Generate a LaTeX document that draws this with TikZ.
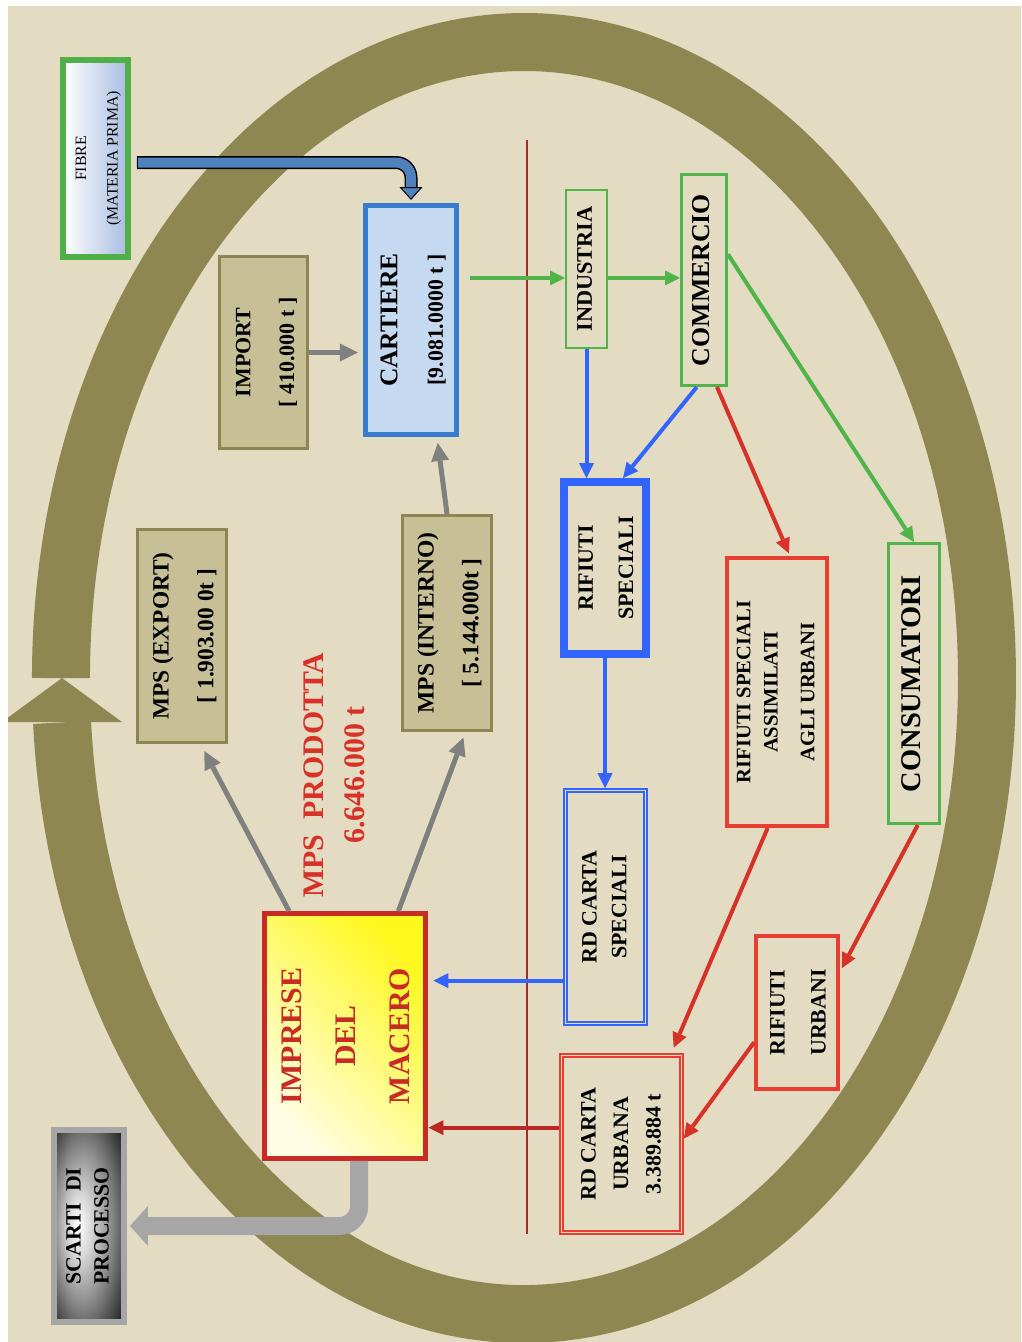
\documentclass[tikz,border=0pt]{standalone}
\usepackage{fontspec}
\setmainfont{Liberation Serif}
\usepackage{graphicx}
\usetikzlibrary{arrows.meta, calc}

\definecolor{bgbeige}{RGB}{227,219,194}
\definecolor{ringolive}{RGB}{142,135,82}
\definecolor{khaki}{RGB}{199,192,150}
\definecolor{khakiedge}{RGB}{140,134,84}
\definecolor{cartfill}{RGB}{197,217,241}
\definecolor{cartedge}{RGB}{55,125,205}
\definecolor{fibgreen}{RGB}{80,176,72}
\definecolor{fibblue}{RGB}{79,129,189}
\definecolor{fibshade}{RGB}{168,188,224}
\definecolor{flowgreen}{RGB}{80,180,75}
\definecolor{flowblue}{RGB}{50,100,255}
\definecolor{flowred}{RGB}{215,50,40}
\definecolor{boxred}{RGB}{232,62,50}
\definecolor{macred}{RGB}{200,42,36}
\definecolor{deepred}{RGB}{185,40,35}
\definecolor{sepred}{RGB}{160,45,40}
\definecolor{flowgray}{RGB}{128,128,128}
\definecolor{scartigray}{RGB}{166,166,166}
\definecolor{macyellow}{RGB}{255,248,30}
\definecolor{macpale}{RGB}{255,253,228}

\pgfdeclareradialshading{scartishade}{\pgfpoint{-8bp}{0bp}}{%
  color(0bp)=(white); color(8bp)=(white!85!black); color(22bp)=(black!50);
  color(36bp)=(black!88); color(50bp)=(black)}

\newcommand{\fsz}[2]{\fontsize{#1}{#2}\selectfont}
\newcommand{\vlines}[1]{\rotatebox{90}{\begin{tabular}{@{}c@{}}#1\end{tabular}}}

\tikzset{
    box/.style={
        rectangle, inner sep=0pt, font=\bfseries\fsz{12.5}{25}
    },
    fibrebox/.style={
        box, draw=fibgreen, line width=0.12cm,
        left color=white, right color=fibshade, font=\fsz{9}{18}
    },
    khakibox/.style={
        box, draw=khakiedge, line width=0.06cm, fill=khaki
    },
    cartbox/.style={
        box, draw=cartedge, line width=0.1cm, fill=cartfill
    },
    greenbox/.style={box, draw=flowgreen, line width=0.06cm},
    redbox/.style={box, draw=boxred, line width=0.08cm},
    framebox/.style={box, line width=0.9pt},
    innerframe/.style={line width=0.9pt},
    fibreline/.style={
        draw=black, line width=0.26cm, rounded corners=0.3cm,
        shorten <=0.12cm, shorten >=0.32cm
    },
    fibrearr/.style={
        draw=fibblue, line width=0.2cm, rounded corners=0.3cm,
        shorten <=0.14cm, shorten >=0.06cm,
        -{Triangle[length=0.26cm 0 0, width=0.46cm 0 0, fill=fibblue, color=black, line width=0.6pt 0 0]}
    },
    grayarr/.style={
        draw=flowgray, line width=0.1cm,
        -{Triangle[length=0.36cm 0 0, width=0.36cm 0 0, line width=0pt 0 0]}
    },
    greenarr/.style={
        draw=flowgreen, line width=0.08cm,
        -{Triangle[length=0.3cm 0 0, width=0.3cm 0 0, line width=0pt 0 0]}
    },
    bluearr/.style={
        draw=flowblue, line width=0.08cm,
        -{Triangle[length=0.3cm 0 0, width=0.3cm 0 0, line width=0pt 0 0]}
    },
    redarr/.style={
        draw=flowred, line width=0.08cm,
        -{Triangle[length=0.3cm 0 0, width=0.3cm 0 0, line width=0pt 0 0]}
    },
    scartiarr/.style={
        draw=scartigray, line width=0.36cm, rounded corners=0.4cm, shorten >=0.06cm,
        -{Triangle[length=0.36cm 0 0, width=0.8cm 0 0, line width=0pt 0 0]}
    },
    ring/.style={draw=ringolive, line width=1.16cm},
    sepline/.style={draw=sepred, line width=0.04cm}
}

\begin{document}
\begin{tikzpicture}[x=0.02cm, y=-0.02cm]

\useasboundingbox (0,0) rectangle (1021,1342);
\fill[white] (0,0) rectangle (1021,1342);
\fill[bgbeige] (8,6) rectangle (1021,1342);

% Recycling loop
\begin{scope}
\clip (8,6) rectangle (1021,1342);
\draw[ring] (62.1,722.4) arc[start angle=176, end angle=-180, x radius=463, y radius=636];
\fill[ringolive] (2,722) -- (62,678) -- (122,722) -- cycle;
\end{scope}

\draw[sepline] (527,140) -- (527,1234);

% Paper mills side
\node[fibrebox, minimum width=1.3cm, minimum height=3.94cm] (fibre) at (95.5,158.5) {\vlines{FIBRE\\(MATERIA PRIMA)}};
\node[khakibox, minimum width=1.6cm, minimum height=3.84cm] (import) at (263.5,352.5) {\vlines{IMPORT\\{[} 410.000 t ]}};
\node[cartbox, minimum width=1.74cm, minimum height=4.58cm, font=\bfseries\fsz{12.4}{26}] (cartiere) at (411,320) {\vlines{{\fsz{14.5}{26}CARTIERE}\\{[}9.081.0000 t ]}};
\node[khakibox, minimum width=1.74cm, minimum height=4.26cm, font=\bfseries\fsz{13.3}{25.5}] (mpsexp) at (182,636) {\vlines{MPS (EXPORT)\\{[} 1.903.00 0t ]}};
\node[khakibox, minimum width=1.74cm, minimum height=4.3cm, font=\bfseries\fsz{13.4}{25.5}] (mpsint) at (447,623) {\vlines{MPS (INTERNO)\\{[} 5.144.000t ]}};
\node[box, text=flowred, font=\bfseries\fsz{17}{23.3}] (prod) at (336,775) {\vlines{MPS\ \ PRODOTTA\\6.646.000 t}};

% Recovery companies
\node[box, draw=macred, line width=0.1cm, top color=macyellow, bottom color=macpale, shading angle=-45,
      text=macred, font=\bfseries\fsz{17}{30.7}, minimum width=3.18cm, minimum height=4.9cm] (macero) at (345,1036) {\vlines{IMPRESE\\DEL\\MACERO}};
\node[box, draw=scartigray, line width=0.12cm, shading=scartishade,
      font=\bfseries\fsz{12.4}{16}, minimum width=1.4cm, minimum height=3.84cm] (scarti) at (89,1226) {\vlines{SCARTI\ \ DI\\PROCESSO}};

% Users and waste
\node[greenbox, line width=0.04cm, font=\bfseries\fsz{12.7}{15}, minimum width=0.82cm, minimum height=3.16cm] (industria) at (586.5,269) {\vlines{INDUSTRIA}};
\node[greenbox, font=\bfseries\fsz{14.7}{17}, minimum width=0.9cm, minimum height=4.22cm] (commercio) at (704,280) {\vlines{COMMERCIO}};
\node[box, draw=flowblue, line width=0.16cm, font=\bfseries\fsz{12.5}{22.8}, minimum width=1.64cm, minimum height=3.44cm] (rspec) at (605,568) {\vlines{RIFIUTI\\SPECIALI}};
\node[redbox, font=\bfseries\fsz{11.7}{15.4}, minimum width=2cm, minimum height=5.36cm] (assim) at (777,692) {\vlines{RIFIUTI SPECIALI\\ASSIMILATI\\[5.6pt]AGLI URBANI}};
\node[greenbox, font=\bfseries\fsz{16.2}{19}, minimum width=1.02cm, minimum height=5.6cm] (consumatori) at (914,683.5) {\vlines{CONSUMATORI}};
\node[redbox, font=\bfseries\fsz{12.5}{23.3}, minimum width=1.6cm, minimum height=3.06cm] (rurb) at (797,1012.5) {\vlines{RIFIUTI\\URBANI}};
\node[framebox, draw=boxred, font=\bfseries\fsz{12.5}{18.5}, minimum width=2.46cm, minimum height=3.6cm] (rdurb) at (621.5,1144) {\vlines{RD CARTA\\URBANA\\3.389.884 t}};
\draw[innerframe, draw=boxred] ($(rdurb.north west)+(4,4)$) rectangle ($(rdurb.south east)+(-4,-4)$);
\node[framebox, draw=flowblue, font=\bfseries\fsz{12.5}{17}, minimum width=1.66cm, minimum height=4.72cm] (rdspec) at (605.5,907) {\vlines{RD CARTA\\SPECIALI}};
\draw[innerframe, draw=flowblue] ($(rdspec.north west)+(4,4)$) rectangle ($(rdspec.south east)+(-4,-4)$);

% Fibre supply
\coordinate (fibout) at ($(fibre.north east)!0.52!(fibre.south east)$);
\draw[fibreline] (fibout) -| (cartiere.north);
\draw[fibrearr] (fibout) -| (cartiere.north);

% Secondary raw material
\draw[grayarr, shorten >=0.1cm] (import.east) -- (import.east -| cartiere.west);
\draw[grayarr, shorten >=0.12cm] (mpsint.north) -- ($(cartiere.south west)!0.77!(cartiere.south east)$);
\draw[grayarr, shorten >=0.16cm] ($(macero.north west)!0.165!(macero.north east)$) -- ($(mpsexp.south west)!0.7!(mpsexp.south east)$);
\draw[grayarr, shorten >=0.12cm] ($(macero.north west)!0.82!(macero.north east)$) -- ($(mpsint.south west)!0.7!(mpsint.south east)$);
\draw[scartiarr] ($(macero.south west)!0.585!(macero.south east)$) |- (scarti.east);

% Product flow
\coordinate (cartout) at ($(cartiere.north east)!0.32!(cartiere.south east)$);
\draw[greenarr, shorten <=0.22cm] (cartout) -- (cartout -| industria.west);
\draw[greenarr] (cartout -| industria.east) -- (cartout -| commercio.west);
\draw[greenarr] ($(commercio.north east)!0.38!(commercio.south east)$) -- (consumatori.north);

% Special waste
\draw[bluearr] (industria.south) -- (industria.south |- rspec.north);
\draw[bluearr] ($(commercio.south west)!0.35!(commercio.south east)$) -- ($(rspec.north west)!0.7!(rspec.north east)$);
\draw[bluearr] (rspec.south) -- (rspec.south |- rdspec.north);
\coordinate (rdsout) at ($(rdspec.south west)!0.19!(rdspec.north west)$);
\draw[bluearr, shorten >=0.1cm] (rdsout) -- (rdsout -| macero.east);

% Urban waste
\draw[redarr, shorten >=0.06cm] ($(commercio.south west)!0.77!(commercio.south east)$) -- ($(assim.north west)!0.625!(assim.north east)$);
\draw[redarr, shorten >=0.12cm] ($(assim.south west)!0.41!(assim.south east)$) -- ($(rdurb.north west)!0.9!(rdurb.north east)$);
\draw[redarr, shorten >=0.08cm] ($(consumatori.south west)!0.57!(consumatori.south east)$) -- ($(rurb.north east)!0.24!(rurb.south east)$);
\draw[redarr] ($(rurb.north west)!0.69!(rurb.south west)$) -- ($(rdurb.north east)!0.47!(rdurb.south east)$);
\coordinate (rduout) at ($(rdurb.south west)!0.59!(rdurb.north west)$);
\draw[redarr, draw=deepred] (rduout) -- (rduout -| macero.east);

\end{tikzpicture}
\end{document}
